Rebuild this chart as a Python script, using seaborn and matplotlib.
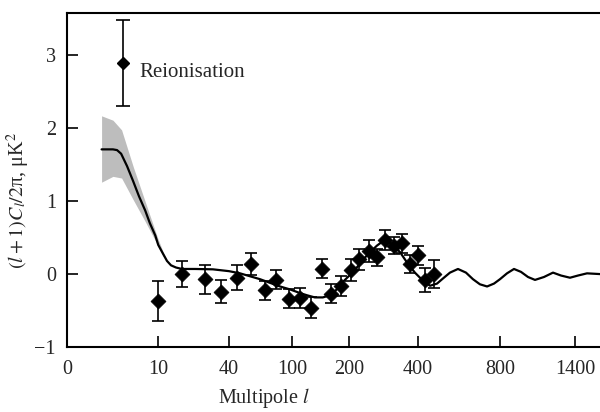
import numpy as np
import pandas as pd
import matplotlib
matplotlib.use("Agg")
import matplotlib.pyplot as plt
import seaborn as sns

# model curve (multipole l, value)
model_l = [3.8, 4.5, 5.05, 5.5, 5.95, 6.6, 7.25, 7.9, 8.6, 9.1, 9.7, 10.1, 12.1, 13.8,
           15.5, 17.6, 20.1, 25.6, 33.2, 40, 50.5, 60, 69.5, 79, 88.6, 98, 114, 126,
           140, 154, 163, 172, 181, 189, 198, 212, 226, 241, 261, 281, 298, 316, 330,
           348, 368, 391, 424, 459, 493, 522, 556, 595, 634, 668, 702, 737, 771, 800,
           856, 912, 968, 1024, 1080, 1152, 1224, 1288, 1360, 1424, 1496, 1600]
model_val = [1.71, 1.71, 1.71, 1.70, 1.65, 1.48, 1.28, 1.07, 0.87, 0.70, 0.53, 0.40, 0.28,
             0.18, 0.12, 0.09, 0.07, 0.07, 0.065, 0.04, 0.01, -0.03, -0.07, -0.12, -0.17,
             -0.21, -0.26, -0.29, -0.32, -0.32, -0.30, -0.26, -0.19, -0.11, -0.04, 0.03,
             0.11, 0.20, 0.30, 0.39, 0.45, 0.44, 0.39, 0.30, 0.16, 0.02, -0.09, -0.16,
             -0.13, -0.06, 0.02, 0.07, 0.02, -0.07, -0.14, -0.17, -0.13, -0.07, 0.01,
             0.07, 0.03, -0.04, -0.08, -0.04, 0.02, -0.02, -0.05, -0.02, 0.01, 0.0]

# grey band around the model at low l
band_l = [3.8, 5.05, 6.0, 7.3, 8.6, 9.7, 10.0, 12.1, 14.2]
band_up = [0.46, 0.40, 0.34, 0.20, 0.12, 0.06, 0.05, 0.03, 0.0]
band_lo = [0.45, 0.37, 0.32, 0.25, 0.15, 0.07, 0.05, 0.03, 0.0]

# binned data points
data_l = [10, 20, 30, 36.5, 48, 61, 74, 85, 97, 114, 133, 153, 168, 186, 205,
          230, 258, 282, 303, 330, 354, 377, 401, 434, 478]
data_val = [-0.37, 0.0, -0.07, -0.24, -0.05, 0.14, -0.22, -0.08, -0.34, -0.33, -0.46,
            0.07, -0.27, -0.16, 0.06, 0.20, 0.32, 0.23, 0.47, 0.39, 0.42, 0.14, 0.26,
            -0.08, 0.0]
data_err = [0.27, 0.18, 0.20, 0.16, 0.17, 0.15, 0.13, 0.13, 0.13, 0.14, 0.14,
            0.13, 0.13, 0.14, 0.15, 0.14, 0.15, 0.12, 0.14, 0.12, 0.13, 0.12, 0.13,
            0.16, 0.19]

# reionisation point
reion_l = [6.2]
reion_val = [2.90]
reion_err = [0.59]

xticks = [0, 10, 40, 100, 200, 400, 800, 1400]
yticks = [-1, 0, 1, 2, 3]

# custom stretched multipole axis
scale_l = [0, 10, 40, 100, 200, 400, 800, 1400, 1600]
scale_p = [0, 91, 162, 225, 282, 351, 433, 508, 533]


def fwd(x):
    return np.interp(x, scale_l, scale_p)


def inv(p):
    return np.interp(p, scale_p, scale_l)


sns.set_theme(style="ticks")
plt.rcParams['font.family'] = ['Liberation Serif', 'DejaVu Serif']
plt.rcParams['mathtext.fontset'] = 'stix'

fig = plt.figure(figsize=(6, 4.12), dpi=100)
ax = fig.add_axes([67 / 600, 1 - 347 / 412, 1 - 67 / 600, (347 - 13) / 412])
ax.set_xscale('function', functions=(fwd, inv))

model_df = pd.DataFrame({'l': model_l, 'v': model_val})
data_df = pd.DataFrame({'l': data_l, 'v': data_val})

bl = np.array(band_l)
bm = np.interp(bl, model_l, model_val)
ax.fill_between(bl, bm - np.array(band_lo), bm + np.array(band_up),
                color='#bdbdbd', linewidth=0, zorder=1)

sns.lineplot(data=model_df, x='l', y='v', color='black', linewidth=1.6,
             ax=ax, zorder=2)

ax.errorbar(data_l, data_val, yerr=data_err, fmt='none', ecolor='black',
            elinewidth=1.2, capsize=4.5, capthick=1.2, zorder=3)
sns.scatterplot(data=data_df, x='l', y='v', marker='D', s=58, color='black',
                edgecolor='black', linewidth=0.5, ax=ax, zorder=4)

ax.errorbar(reion_l, reion_val, yerr=reion_err, fmt='D', color='black',
            markersize=6.5, elinewidth=1.2, capsize=5, capthick=1.2, zorder=4)
ax.text(7.9, 2.76, 'Reionisation', fontsize=15, va='center', ha='left')

ax.set_xlim(0, 1600)
ax.set_ylim(-1, 3.58)
ax.set_xticks(xticks)
ax.set_xticklabels([str(t) for t in xticks])
ax.set_yticks(yticks)
ax.set_yticklabels(['\u22121', '0', '1', '2', '3'])
ax.minorticks_off()
ax.tick_params(direction='in', length=8, width=1.2, labelsize=14.5, color='black')
ax.tick_params(axis='x', pad=9)
ax.tick_params(axis='y', pad=8)
ax.set_xlabel('')
ax.set_ylabel('')
for s in ['left', 'bottom', 'top']:
    ax.spines[s].set_linewidth(1.5)
    ax.spines[s].set_color('black')
ax.spines['right'].set_visible(False)

fig.text(264 / 600, 1 - 398 / 412, r'Multipole $l$', fontsize=14.5,
         ha='center', va='center')
fig.text(18 / 600, 1 - 200 / 412, r'$(l+1)C_l/2$π, μK$^2$', fontsize=14.5,
         rotation=90, ha='center', va='center')

fig.savefig('out.png', dpi=100)
